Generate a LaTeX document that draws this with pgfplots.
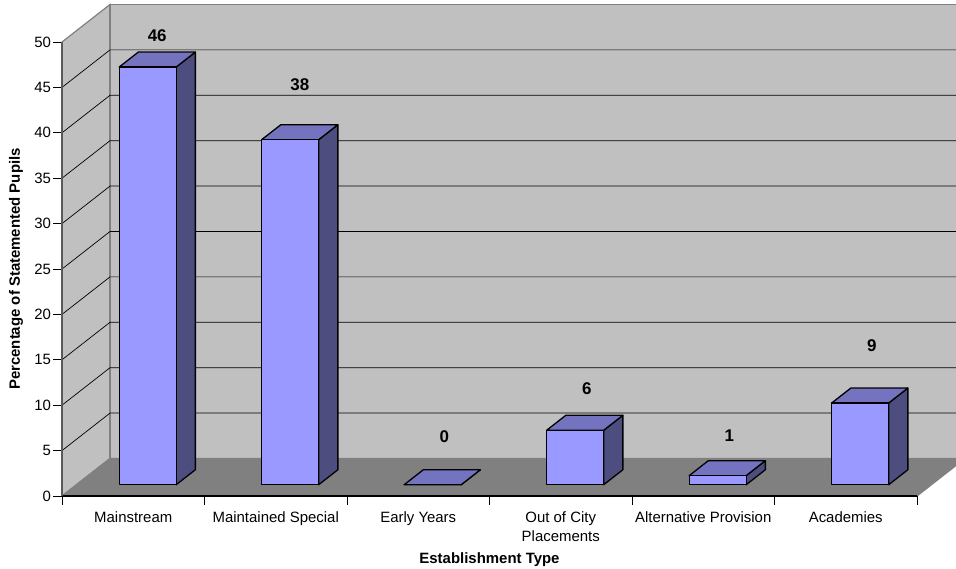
\documentclass[border=0pt]{standalone}
\usepackage{fontspec}
\setmainfont{Liberation Sans}
\usepackage{pgfplots}
\pgfplotsset{compat=1.18}

\definecolor{wall}{HTML}{C0C0C0}
\definecolor{floorgrey}{HTML}{808080}
\definecolor{barfront}{HTML}{9999FF}
\definecolor{bartop}{HTML}{7373BF}
\definecolor{barside}{HTML}{4D4D80}

% One column: #1 left edge, #2 right edge, #3 value; depth runs from 0.3 to 0.7
\newcommand{\column}[3]{%
  \addplot3[draw=black, line width=1.3bp, line join=round, fill=barside]
    coordinates {(#2,0.3,0) (#2,0.7,0) (#2,0.7,#3) (#2,0.3,#3)} --cycle;
  \addplot3[draw=black, line width=1.3bp, line join=round, fill=bartop]
    coordinates {(#1,0.3,#3) (#2,0.3,#3) (#2,0.7,#3) (#1,0.7,#3)} --cycle;
  \addplot3[draw=black, line width=1.3bp, line join=round, fill=barfront]
    coordinates {(#1,0.3,0) (#2,0.3,0) (#2,0.3,#3) (#1,0.3,#3)} --cycle;
}

\begin{document}
\begin{tikzpicture}
\useasboundingbox (0,0) rectangle (956bp,569bp);
\clip (0,0) rectangle (956bp,569bp);

% Oblique box: categories along x, depth along y, percentage along z
\begin{axis}[
  at={(62bp,73bp)}, anchor=origin,
  x={(142.5bp,0bp)}, y={(48bp,37.5bp)}, z={(0bp,9.08bp)},
  xmin=0, xmax=6, ymin=0, ymax=1, zmin=0, zmax=50,
  hide axis, clip=false, no markers,
]
  % side wall, back wall and floor
  \addplot3[fill=wall, draw=floorgrey, line width=1.2bp]
    coordinates {(0,0,0) (0,1,0) (0,1,50) (0,0,50)} --cycle;
  \addplot3[fill=wall, draw=floorgrey, line width=1.2bp]
    coordinates {(0,1,0) (6,1,0) (6,1,50) (0,1,50)} --cycle;
  \addplot3[fill=floorgrey, draw=floorgrey, line width=1.2bp]
    coordinates {(0,0,0) (6,0,0) (6,1,0) (0,1,0)} --cycle;

  % gridlines across both walls
  \pgfplotsinvokeforeach{5,10,...,45}{
    \addplot3[draw=black, line width=0.7bp]
      coordinates {(0,0,#1) (0,1,#1) (6,1,#1)};
  }

  \column{0.3}{0.7}{46}
  \column{1.3}{1.7}{38}
  \column{2.3}{2.7}{0}
  \column{3.3}{3.7}{6}
  \column{4.3}{4.7}{1}
  \column{5.3}{5.7}{9}

  % value labels above the columns
  \begin{scope}[every node/.style={font=\fontsize{17}{19}\selectfont\bfseries}]
    \node at (axis cs:0.5,0.5,46) [yshift=23.5bp] {46};
    \node at (axis cs:1.5,0.5,38) [yshift=48bp] {38};
    \node at (axis cs:2.5,0.5,0)  [xshift=2bp, yshift=41bp] {0};
    \node at (axis cs:3.5,0.5,6)  [xshift=2bp, yshift=34bp] {6};
    \node at (axis cs:4.5,0.5,1)  [xshift=2bp, yshift=32bp] {1};
    \node at (axis cs:5.5,0.5,9)  [xshift=2bp, yshift=50bp] {9};
  \end{scope}
\end{axis}

% Front frame: percentage scale, category names and axis titles
\begin{axis}[
  at={(62bp,73bp)}, anchor=south west,
  scale only axis, width=855bp, height=454bp,
  xmin=0, xmax=6, ymin=0, ymax=50,
  axis x line=bottom, axis y line=left,
  x axis line style={-, black, line width=1.1bp},
  y axis line style={-, black!65, line width=1.1bp},
  tick align=outside,
  tick style={black, line width=0.7bp},
  major tick length=8.5bp,
  ytick={0,5,...,50},
  xtick={0,1,2,3,4,5,6},
  x tick label as interval,
  xticklabels={Mainstream,Maintained Special,Early Years,{Out of City\\Placements},Alternative Provision,Academies},
  /pgf/number format/assume math mode=true,
  tick label style={font=\fontsize{15}{19}\selectfont},
  x tick label style={align=center, anchor=north, yshift=-4bp},
  y tick label style={xshift=1bp},
  xlabel={\bfseries Establishment Type},
  ylabel={\bfseries Percentage of Statemented Pupils},
  label style={font=\fontsize{15}{17}\selectfont},
  xlabel style={at={(axis description cs:0.5,0)}, anchor=center, yshift=-63.5bp},
  ylabel style={at={(axis description cs:0,0.5)}, anchor=center, yshift=46bp},
]
\end{axis}
\end{tikzpicture}
\end{document}
